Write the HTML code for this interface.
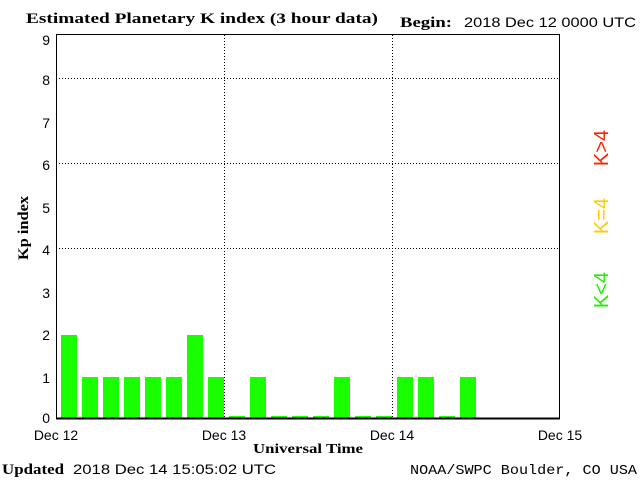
<!DOCTYPE html>
<html><head><style>body{margin:0;background:#fff}svg{display:block}</style></head><body>
<svg width="640" height="480" xmlns="http://www.w3.org/2000/svg">
<rect width="640" height="480" fill="#fff"/>
<g font-family="Liberation Serif, serif" font-weight="bold" font-size="15" fill="#000">
<text x="26" y="23" textLength="352" lengthAdjust="spacingAndGlyphs">Estimated Planetary K index (3 hour data)</text>
<text x="400" y="27" textLength="52" lengthAdjust="spacingAndGlyphs">Begin:</text>
<text x="2" y="474" textLength="62" lengthAdjust="spacingAndGlyphs">Updated</text>
<text x="253" y="453" font-size="14" textLength="110" lengthAdjust="spacingAndGlyphs">Universal Time</text>
<text x="410" y="474" font-weight="normal" font-family="Liberation Mono, monospace" font-size="14" textLength="227" lengthAdjust="spacingAndGlyphs">NOAA/SWPC Boulder, CO USA</text>
<text transform="translate(28,228) rotate(-90)" text-anchor="middle" font-size="15" textLength="64" lengthAdjust="spacingAndGlyphs">Kp index</text>
</g>
<g font-family="Liberation Sans, sans-serif" font-size="14" fill="#000">
<text x="464" y="27" textLength="172" lengthAdjust="spacingAndGlyphs">2018 Dec 12 0000 UTC</text>
<text x="73" y="474" textLength="203" lengthAdjust="spacingAndGlyphs">2018 Dec 14 15:05:02 UTC</text>
<text x="56" y="440" text-anchor="middle">Dec 12</text>
<text x="224" y="440" text-anchor="middle">Dec 13</text>
<text x="392" y="440" text-anchor="middle">Dec 14</text>
<text x="560" y="440" text-anchor="middle">Dec 15</text>
<g text-anchor="end">
<text x="50" y="423">0</text><text x="50" y="383">1</text><text x="50" y="340">2</text><text x="50" y="298">3</text><text x="50" y="255">4</text><text x="50" y="213">5</text><text x="50" y="170">6</text><text x="50" y="128">7</text><text x="50" y="85">8</text><text x="50" y="45">9</text>
</g>
</g>
<g font-family="Liberation Sans, sans-serif" font-size="20">
<text transform="translate(608,290) rotate(-90)" text-anchor="middle" fill="#22ee00">K&lt;4</text>
<text transform="translate(608,216) rotate(-90)" text-anchor="middle" fill="#ffcc00">K=4</text>
<text transform="translate(608,148) rotate(-90)" text-anchor="middle" fill="#ff2200">K&gt;4</text>
</g>
<g stroke="#000" stroke-dasharray="1,2" stroke-width="1">
<line x1="56" x2="560" y1="78.5" y2="78.5"/><line x1="56" x2="560" y1="163.5" y2="163.5"/><line x1="56" x2="560" y1="248.5" y2="248.5"/>
<line x1="224.5" x2="224.5" y1="35" y2="418"/><line x1="392.5" x2="392.5" y1="35" y2="418"/>
</g>
<g fill="#1aff00">
<rect x="61" y="335" width="16" height="84"/>
<rect x="82" y="377" width="16" height="42"/>
<rect x="103" y="377" width="16" height="42"/>
<rect x="124" y="377" width="16" height="42"/>
<rect x="145" y="377" width="16" height="42"/>
<rect x="166" y="377" width="16" height="42"/>
<rect x="187" y="335" width="16" height="84"/>
<rect x="208" y="377" width="16" height="42"/>
<rect x="229" y="416" width="16" height="3"/>
<rect x="250" y="377" width="16" height="42"/>
<rect x="271" y="416" width="16" height="3"/>
<rect x="292" y="416" width="16" height="3"/>
<rect x="313" y="416" width="16" height="3"/>
<rect x="334" y="377" width="16" height="42"/>
<rect x="355" y="416" width="16" height="3"/>
<rect x="376" y="416" width="16" height="3"/>
<rect x="397" y="377" width="16" height="42"/>
<rect x="418" y="377" width="16" height="42"/>
<rect x="439" y="416" width="16" height="3"/>
<rect x="460" y="377" width="16" height="42"/>
</g>
<rect x="56.5" y="34.5" width="503" height="384" fill="none" stroke="#000" stroke-width="1"/>
<line x1="56" x2="560" y1="418.5" y2="418.5" stroke="#000" stroke-width="2"/>
</svg>
</body></html>
